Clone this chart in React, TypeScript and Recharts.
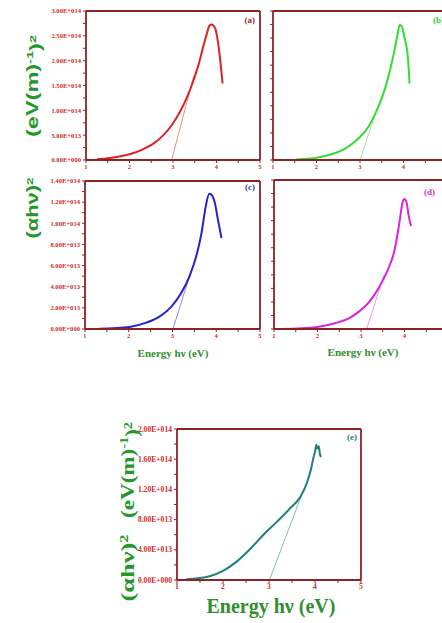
import { LineChart, Line, XAxis, YAxis, ReferenceLine } from "recharts"

// photon energy ticks (eV), minor ticks every 0.5
const energyTicks = [1, 1.5, 2, 2.5, 3, 3.5, 4, 4.5, 5]

// (αhν)² values below are in units of 1E+014 (eV/m)²
// (a)
const aEnergy = [1.25, 1.56, 2.02, 2.32, 2.55, 2.78, 2.97, 3.16, 3.32, 3.47, 3.59, 3.7, 3.78, 3.84, 3.89, 3.97, 4.04, 4.14]
const aAlpha = [0.013, 0.04, 0.12, 0.22, 0.33, 0.5, 0.7, 0.97, 1.26, 1.6, 1.93, 2.3, 2.55, 2.71, 2.73, 2.65, 2.34, 1.54]
const aFitE = [2.97, 3.48]
const aFitY = [0, 1.7]
const aTicks = [0, 0.25, 0.5, 0.75, 1, 1.25, 1.5, 1.75, 2, 2.25, 2.5, 2.75, 3]

// (b)
const bEnergy = [1.53, 2.0, 2.36, 2.66, 2.97, 3.19, 3.42, 3.61, 3.76, 3.86, 3.91, 3.96, 4.02, 4.1, 4.14]
const bAlpha = [0.01, 0.04, 0.11, 0.21, 0.4, 0.61, 0.98, 1.41, 1.9, 2.3, 2.49, 2.47, 2.27, 1.9, 1.41]
const bFitE = [3.0, 3.33]
const bFitY = [0, 0.8]
const bTicks = [0, 0.25, 0.5, 0.75, 1, 1.25, 1.5, 1.75, 2, 2.25, 2.5, 2.75]

// (c)
const cEnergy = [1.33, 2.02, 2.4, 2.71, 2.97, 3.2, 3.39, 3.55, 3.66, 3.76, 3.84, 3.89, 3.97, 4.04, 4.12]
const cAlpha = [0.003, 0.02, 0.06, 0.12, 0.21, 0.34, 0.5, 0.7, 0.9, 1.16, 1.28, 1.27, 1.19, 1.03, 0.86]
const cFitE = [3.01, 3.45]
const cFitY = [0, 0.58]
const cTicks = [0, 0.1, 0.2, 0.3, 0.4, 0.5, 0.6, 0.7, 0.8, 0.9, 1, 1.1, 1.2, 1.3, 1.4]

// (d)
const dEnergy = [1.19, 2.0, 2.42, 2.73, 2.96, 3.19, 3.42, 3.62, 3.77, 3.88, 3.96, 4.0, 4.05, 4.1, 4.15]
const dAlpha = [0, 0.015, 0.044, 0.08, 0.13, 0.2, 0.31, 0.44, 0.58, 0.78, 0.94, 0.96, 0.93, 0.83, 0.76]
const dFitE = [3.13, 3.53]
const dFitY = [0, 0.4]
const dTicks = [0, 0.1, 0.2, 0.3, 0.4, 0.5, 0.6, 0.7, 0.8, 0.9, 1, 1.1]

// (e)
const eEnergy = [1.2, 1.71, 2.0, 2.29, 2.59, 2.88, 3.17, 3.46, 3.68, 3.82, 3.91, 3.97, 4.0, 4.03, 4.05, 4.08, 4.11, 4.13]
const eAlpha = [0.01, 0.05, 0.12, 0.24, 0.41, 0.6, 0.77, 0.95, 1.1, 1.28, 1.46, 1.63, 1.7, 1.79, 1.74, 1.77, 1.66, 1.63]
const eFitE = [3.01, 3.75]
const eFitY = [0, 1.19]
const eTicks = [0, 0.2, 0.4, 0.6, 0.8, 1, 1.2, 1.4, 1.6, 1.8, 2]

const FRAME = "#8c2424"
const TICK_RED = "#d12a2a"
const TITLE_GREEN = "#2f8f2f"
const LABEL_GREEN = "#22982a"
const TOP_PAD = 6

const toPts = (xs: number[], ys: number[]) => xs.map((x, i) => ({ x, y: ys[i] }))

// 2.5 -> "2.50E+014"
function sci(v: number) {
    if (v === 0) return "0.00E+000"
    const real = v * 1e14
    const exp = Math.floor(Math.log10(real) + 1e-9)
    const mant = real / Math.pow(10, exp)
    return `${mant.toFixed(2)}E+${String(exp).padStart(3, "0")}`
}

interface PanelProps {
    plotLeft: number
    plotTop: number
    plotW: number
    plotH: number
    yAxisW: number
    xAxisH: number
    yTicks: number[]
    showY: boolean
    curve: { x: number; y: number }[]
    fit: { x: number; y: number }[]
    color: string
    fitColor: string
    fontSize: number
}

function Panel({ plotLeft, plotTop, plotW, plotH, yAxisW, xAxisH, yTicks, showY, curve, fit, color, fitColor, fontSize }: PanelProps) {
    const yMax = yTicks[yTicks.length - 1]
    const tickStyle = { fill: TICK_RED, fontSize, fontWeight: 700, fontFamily: "Liberation Serif, serif" }
    const axisLine = { stroke: FRAME, strokeWidth: 1.8 }
    return (
        <div style={{ position: "absolute", left: plotLeft - yAxisW, top: plotTop - TOP_PAD }}>
            <LineChart
                width={yAxisW + plotW + 3}
                height={TOP_PAD + plotH + xAxisH}
                margin={{ top: TOP_PAD, right: 3, left: 0, bottom: 0 }}
            >
                <XAxis
                    type="number"
                    dataKey="x"
                    domain={[1, 5]}
                    ticks={energyTicks}
                    tickFormatter={(v: number) => (Number.isInteger(v) ? String(v) : "")}
                    height={xAxisH}
                    tickSize={3}
                    tickMargin={1}
                    axisLine={axisLine}
                    tickLine={{ stroke: FRAME }}
                    tick={tickStyle}
                    interval={0}
                />
                <YAxis
                    type="number"
                    domain={[0, yMax]}
                    ticks={yTicks}
                    tickFormatter={(v: number, i: number) => (showY && i % 2 === 0 ? sci(v) : "")}
                    width={yAxisW}
                    tickSize={3}
                    tickMargin={2}
                    axisLine={axisLine}
                    tickLine={{ stroke: FRAME }}
                    tick={tickStyle}
                    interval={0}
                />
                <ReferenceLine y={yMax} stroke={FRAME} strokeWidth={1.8} />
                <ReferenceLine x={5} stroke={FRAME} strokeWidth={1.8} />
                <Line
                    data={fit}
                    dataKey="y"
                    type="linear"
                    stroke={fitColor}
                    strokeWidth={0.8}
                    dot={false}
                    isAnimationActive={false}
                />
                <Line
                    data={curve}
                    dataKey="y"
                    type="monotone"
                    stroke={color}
                    strokeWidth={2}
                    dot={false}
                    isAnimationActive={false}
                />
            </LineChart>
        </div>
    )
}

function Sup({ children }: { children: string }) {
    return (
        <tspan fontSize="0.62em" dy="-0.55em">
            {children}
        </tspan>
    )
}

export default function App() {
    return (
        <div style={{ position: "absolute", left: 0, top: 0, width: 442, height: 623, overflow: "hidden", background: "#fff" }}>
            <Panel plotLeft={86} plotTop={11} plotW={174} plotH={149} yAxisW={86} xAxisH={16} yTicks={aTicks} showY
                curve={toPts(aEnergy, aAlpha)} fit={toPts(aFitE, aFitY)} color="#dc2222" fitColor="#e07070" fontSize={6.6} />
            <Panel plotLeft={273} plotTop={11} plotW={174} plotH={149} yAxisW={8} xAxisH={16} yTicks={bTicks} showY={false}
                curve={toPts(bEnergy, bAlpha)} fit={toPts(bFitE, bFitY)} color="#33dd33" fitColor="#88dd88" fontSize={6.6} />
            <Panel plotLeft={85} plotTop={181} plotW={175} plotH={148} yAxisW={85} xAxisH={16} yTicks={cTicks} showY
                curve={toPts(cEnergy, cAlpha)} fit={toPts(cFitE, cFitY)} color="#2323cc" fitColor="#6f6fd8" fontSize={6.6} />
            <Panel plotLeft={274} plotTop={180} plotW={174} plotH={149} yAxisW={8} xAxisH={16} yTicks={dTicks} showY={false}
                curve={toPts(dEnergy, dAlpha)} fit={toPts(dFitE, dFitY)} color="#dd22dd" fitColor="#e080e0" fontSize={6.6} />
            <Panel plotLeft={177} plotTop={429} plotW={184} plotH={151} yAxisW={80} xAxisH={18} yTicks={eTicks} showY
                curve={toPts(eEnergy, eAlpha)} fit={toPts(eFitE, eFitY)} color="#1f807a" fitColor="#6aa8a4" fontSize={7.6} />

            <svg width={442} height={623} style={{ position: "absolute", left: 0, top: 0, pointerEvents: "none" }}>
                <g fontFamily="Liberation Serif, serif" fontWeight={700} fontSize={9}>
                    <text x={255} y={23} textAnchor="end" fill="#b22222">(a)</text>
                    <text x={444} y={23} textAnchor="end" fill="#33cc33">(b)</text>
                    <text x={255} y={190} textAnchor="end" fill="#2b3c9a">(c)</text>
                    <text x={435} y={195} textAnchor="end" fill="#cc33cc">(d)</text>
                    <text x={357} y={440} textAnchor="end" fill="#2a7a7a">(e)</text>
                </g>
                <g fontFamily="Liberation Serif, serif" fontWeight={700} fill={TITLE_GREEN}>
                    <text x={173} y={357} textAnchor="middle" fontSize={11}>Energy hν (eV)</text>
                    <text x={363} y={356} textAnchor="middle" fontSize={11}>Energy hν (eV)</text>
                    <text x={271} y={613} textAnchor="middle" fontSize={20}>Energy hν (eV)</text>
                </g>
                <g fontFamily="Liberation Sans, Arial, sans-serif" fontWeight={700} fill={LABEL_GREEN} fontSize={16}>
                    <text transform="translate(38,86) rotate(-90)" textAnchor="middle" textLength={102} lengthAdjust="spacingAndGlyphs">
                        (eV(m)<Sup>-1</Sup><tspan dy="0.55em">)</tspan><Sup>2</Sup>
                    </text>
                    <text transform="translate(38,208) rotate(-90)" textAnchor="middle" textLength={61} lengthAdjust="spacingAndGlyphs">
                        (αhν)<Sup>2</Sup>
                    </text>
                </g>
                <g fontFamily="Liberation Serif, serif" fontWeight={700} fill={LABEL_GREEN} fontSize={19}>
                    <text transform="translate(134,470) rotate(-90)" textAnchor="middle" textLength={96} lengthAdjust="spacingAndGlyphs">
                        (eV(m)<Sup>-1</Sup><tspan dy="0.55em">)</tspan><Sup>2</Sup>
                    </text>
                    <text transform="translate(134,568) rotate(-90)" textAnchor="middle" textLength={67} lengthAdjust="spacingAndGlyphs">
                        (αhν)<Sup>2</Sup>
                    </text>
                </g>
            </svg>
        </div>
    )
}
